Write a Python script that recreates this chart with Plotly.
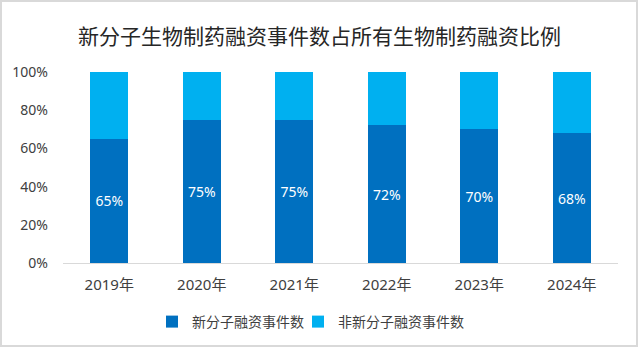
import plotly.graph_objects as go

years = ["2019年", "2020年", "2021年", "2022年", "2023年", "2024年"]
new_mol = [65, 75, 75, 72, 70, 68]
non_new = [35, 25, 25, 28, 30, 32]
series_names = ["新分子融资事件数", "非新分子融资事件数"]
title_text = "新分子生物制药融资事件数占所有生物制药融资比例"

FONT = "Noto Sans, Noto Sans CJK SC, sans-serif"

fig = go.Figure()
fig.add_trace(go.Bar(
    x=years, y=new_mol, name=series_names[0],
    marker=dict(color="#0070C0", line=dict(width=0)),
    text=[f"{v}%" for v in new_mol], textposition="inside",
    insidetextanchor="middle",
    textfont=dict(color="white", size=14, family=FONT),
    hoverinfo="skip", legend="legend",
))
fig.add_trace(go.Bar(
    x=years, y=non_new, name=series_names[1],
    marker=dict(color="#00B0F0", line=dict(width=0)),
    hoverinfo="skip", legend="legend2",
))

leg_common = dict(orientation="h", xanchor="left",
                  y=(263 - 322) / 191, yanchor="middle",
                  font=dict(size=14, color="#404040", family=FONT),
                  itemwidth=30, bgcolor="rgba(0,0,0,0)")

fig.update_layout(
    barmode="stack",
    bargap=0.59,
    width=639, height=348,
    margin=dict(l=63, r=21, t=72, b=85, autoexpand=False),
    paper_bgcolor="white", plot_bgcolor="white",
    font=dict(family=FONT, color="#595959", size=14),
    uniformtext=dict(minsize=14, mode="show"),
    title=dict(text=title_text, x=0.5, xanchor="center", y=1 - 37 / 348,
               yanchor="middle", yref="container",
               font=dict(size=21, color="#262626", family=FONT)),
    legend=dict(x=(152 - 63) / 555, **leg_common),
    legend2=dict(x=(298 - 63) / 555, **leg_common),
    showlegend=True,
    xaxis=dict(showline=True, linecolor="#D9D9D9", linewidth=1,
               ticks="", showgrid=False, tickfont=dict(size=15, color="#404040"),
               tickangle=0, ticklabelstandoff=8, automargin=False),
    yaxis=dict(range=[0, 100], tickvals=[0, 20, 40, 60, 80, 100],
               ticktext=["0%", "20%", "40%", "60%", "80%", "100%"],
               showgrid=False, showline=False, zeroline=False, automargin=False,
               tickfont=dict(size=14, color="#404040"), ticklabelstandoff=14),
    shapes=[dict(type="rect", xref="paper", yref="paper",
                 x0=(1 - 63) / 555, x1=(637 - 63) / 555,
                 y0=(263 - 346) / 191, y1=(263 - 1) / 191,
                 line=dict(color="#D9D9D9", width=2), fillcolor="rgba(0,0,0,0)",
                 layer="below")],
)

fig.write_html("out.html")
